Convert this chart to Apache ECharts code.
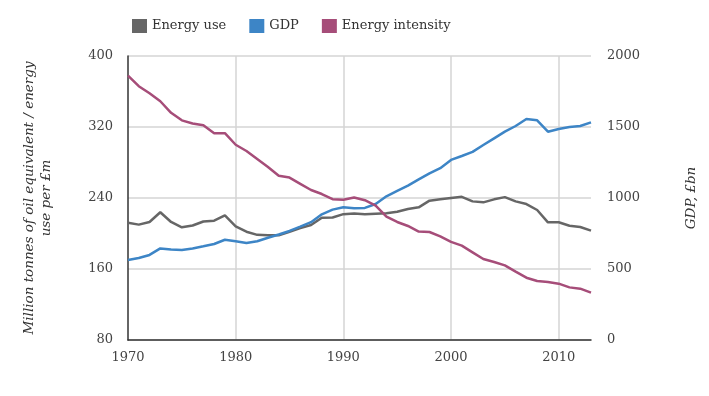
<!DOCTYPE html>
<html>
<head>
<meta charset="utf-8">
<script src="https://cdn.jsdelivr.net/npm/echarts@6/dist/echarts.min.js"></script>
<style>
html,body{margin:0;padding:0;background:#fff;}
#chart{width:709px;height:396px;}
</style>
</head>
<body>
<div id="chart"></div>
<script>
const years = [];
for (let y = 1970; y <= 2013; y++) years.push(String(y));

const energyUse = [212, 210, 213, 224, 213, 207, 209, 213.5, 214.5, 220.5,
  208, 202, 198.5, 198, 198, 202, 206, 209.6, 217.8, 218,
  221.8, 222.5, 221.8, 222.3, 222.7, 224.6, 227.6, 229.5, 237, 238.5,
  240, 241.3, 236.2, 235.1, 238.5, 241, 236.2, 233.2, 226.5, 212.6,
  212.6, 208.8, 207.3, 203.2];

const gdp = [563, 577, 599, 645, 638, 634, 645, 660, 676, 706,
  695, 683, 695, 720, 743, 768, 798, 830, 885, 918,
  935, 927, 930, 958, 1012, 1050, 1087, 1131, 1174, 1210,
  1268, 1296, 1325, 1373, 1420, 1467, 1507, 1556, 1547, 1467,
  1486, 1500, 1507, 1533];

const energyIntensity = [378, 366, 358, 349, 336, 327.5, 324, 322, 313, 313,
  300, 293, 284, 275, 265, 263, 256, 249, 244.5, 238.7,
  238, 240.6, 237.5, 231.5, 219, 213, 208.5, 202.2, 201.7, 196.8,
  190.5, 186.3, 178.8, 171.3, 167.9, 164.1, 157, 150.2, 146.5, 145.4,
  143.5, 139.3, 137.8, 133.3];

const leftTicks = {min: 80, max: 400, interval: 80};
const rightTicks = {min: 0, max: 2000, interval: 500};

const FONT = 'DejaVu Serif';
const TXT = '#444';

const chart = echarts.init(document.getElementById('chart'), null, {renderer: 'canvas'});
chart.setOption({
  animation: false,
  backgroundColor: '#fff',
  textStyle: {fontFamily: FONT, color: TXT},
  legend: {
    left: 127, top: 14,
    itemWidth: 15, itemHeight: 14, itemGap: 23,
    icon: 'rect',
    textStyle: {fontFamily: FONT, fontSize: 13, color: '#333'},
    data: ['Energy use', 'GDP', 'Energy intensity']
  },
  grid: {left: 128, right: 118, top: 56, bottom: 56, containLabel: false},
  xAxis: {
    type: 'category',
    data: years,
    boundaryGap: false,
    axisLine: {lineStyle: {color: '#333', width: 1.5}},
    axisTick: {show: false},
    axisLabel: {
      interval: (i) => i % 10 === 0,
      margin: 11,
      fontFamily: FONT, fontSize: 13, color: TXT
    },
    splitLine: {
      show: true,
      interval: (i) => i % 10 === 0 && i > 0,
      lineStyle: {color: '#d4d4d4', width: 1.5}
    }
  },
  yAxis: [
    {
      type: 'value',
      min: leftTicks.min, max: leftTicks.max, interval: leftTicks.interval,
      name: 'Million tonnes of oil equivalent / energy\nuse per £m',
      nameLocation: 'middle',
      nameGap: 73,
      nameRotate: 90,
      nameTextStyle: {fontFamily: FONT, fontStyle: 'italic', fontSize: 13.5, color: '#333', lineHeight: 17},
      axisLine: {show: true, lineStyle: {color: '#333', width: 1.5}},
      axisTick: {show: false},
      axisLabel: {margin: 15, fontFamily: FONT, fontSize: 13, color: TXT},
      splitLine: {show: true, lineStyle: {color: '#d4d4d4', width: 1.5}}
    },
    {
      type: 'value',
      position: 'right',
      min: rightTicks.min, max: rightTicks.max, interval: rightTicks.interval,
      name: 'GDP, £bn',
      nameLocation: 'middle',
      nameGap: 93,
      nameRotate: 90,
      nameTextStyle: {fontFamily: FONT, fontStyle: 'italic', fontSize: 13.5, color: '#333'},
      axisLine: {show: false},
      axisTick: {show: false},
      axisLabel: {margin: 16, fontFamily: FONT, fontSize: 13, color: TXT,
        formatter: (v) => String(v)},
      splitLine: {show: false}
    }
  ],
  series: [
    {
      name: 'Energy use', type: 'line', yAxisIndex: 0, data: energyUse,
      showSymbol: false, symbol: 'none',
      itemStyle: {color: '#666666'},
      lineStyle: {color: '#666666', width: 2.5}
    },
    {
      name: 'GDP', type: 'line', yAxisIndex: 1, data: gdp,
      showSymbol: false, symbol: 'none',
      itemStyle: {color: '#3d85c6'},
      lineStyle: {color: '#3d85c6', width: 2.5}
    },
    {
      name: 'Energy intensity', type: 'line', yAxisIndex: 0, data: energyIntensity,
      showSymbol: false, symbol: 'none',
      itemStyle: {color: '#a64d79'},
      lineStyle: {color: '#a64d79', width: 2.5}
    }
  ]
});
</script>
</body>
</html>
